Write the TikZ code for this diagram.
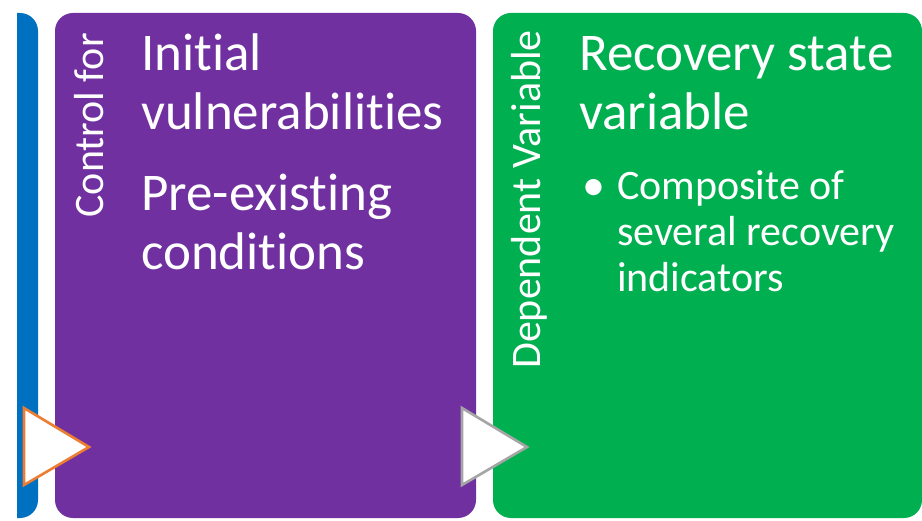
\documentclass[tikz,border=0pt]{standalone}
\usepackage{fontspec}
\setmainfont{Carlito}[Ligatures=NoCommon]
\usepackage{xcolor}
\usepackage{tikz}

\definecolor{barblue}{HTML}{0070C0}
\definecolor{ctrlpurple}{HTML}{7030A0}
\definecolor{depgreen}{HTML}{00B050}
\definecolor{tipOrange}{HTML}{ED7D31}
\definecolor{tipGray}{HTML}{A5A5A5}

\tikzset{
    panel/.style={rounded corners=18pt, minimum height=505pt, inner sep=0pt},
    sidelabel/.style={text=white, rotate=90, anchor=base east, inner sep=0pt,
        font=\fontsize{42}{48}\selectfont},
    headtext/.style={text=white, anchor=base west, align=left, inner sep=0pt,
        font=\fontsize{53}{59}\selectfont},
    itemtext/.style={text=white, anchor=base west, align=left, inner sep=0pt,
        font=\fontsize{42}{46}\selectfont},
    pointer/.style={fill=white, line width=2.6pt, line join=miter}
}

\begin{document}
\begin{tikzpicture}[x=1pt, y=-1pt]
    \fill[white] (0,0) rectangle (922,521);
    \useasboundingbox (0,0) rectangle (922,521);

    % left strip, only its right side is rounded
    \begin{scope}
        \clip (17,0) rectangle (60,521);
        \node[panel, fill=barblue, minimum width=60pt] (strip) at (8,265.5) {};
    \end{scope}

    % the two panels
    \node[panel, fill=ctrlpurple, minimum width=421pt] (control) at (265.5,265.5) {};
    \node[panel, fill=depgreen, minimum width=429pt] (depvar) at (707.5,265.5) {};

    % side labels
    \node[sidelabel] (controllbl) at (103,33) {Control for};
    \node[sidelabel] (deplbl) at (540,30) {Dependent Variable};

    % panel texts (anchored on the last line)
    \node[headtext] (initial) at (141,130) {Initial\\vulnerabilities};
    \node[headtext] (preexist) at (141,270) {Pre-existing\\conditions};
    \node[headtext] (recovery) at (579,130) {Recovery state\\variable};
    \node[itemtext, font=\fontsize{46}{46}\selectfont] (bullet) at (582,201) {\textbullet};
    \node[itemtext] (composite) at (617,292) {Composite of\\several recovery\\indicators};

    % pointers
    \filldraw[pointer, draw=tipOrange] (24,408) -- (89,447) -- (24,485) -- cycle;
    \filldraw[pointer, draw=tipGray] (462,408) -- (527,447) -- (462,485) -- cycle;
\end{tikzpicture}
\end{document}
